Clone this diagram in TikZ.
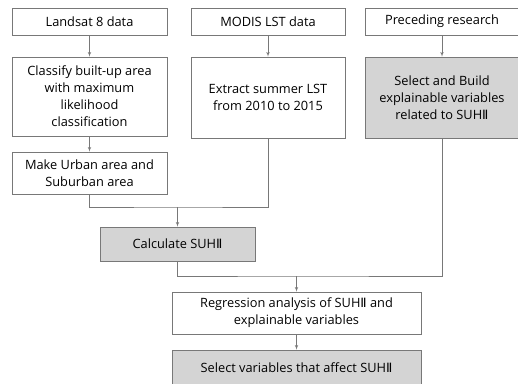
\documentclass[tikz,border=0pt]{standalone}
\usepackage{fontspec}
\setmainfont{Open Sans}
\newfontfamily\romfont{DejaVu Sans}
\newcommand{\romtwo}{{\romfont Ⅱ}}
\usepackage{tikz}
\usetikzlibrary{shapes,arrows,calc}
\definecolor{boxgray}{RGB}{212,212,212}
\definecolor{edgegray}{RGB}{120,120,120}
\tikzstyle{line} = [draw, edgegray, -latex']
\tikzstyle{block} = [draw=edgegray, fill=white, rectangle, text centered, align=center, inner sep=0pt, text=black]
\tikzstyle{shaded} = [block, fill=boxgray]

\begin{document}
\begin{tikzpicture}[x=1pt, y=-1pt, line width=0.6pt, font=\fontsize{12.8}{17}\selectfont]
        \useasboundingbox (0,0) rectangle (518,383);
        \node[block, minimum width=155pt, minimum height=27pt] (landsat) at (89.5,21.5) {Landsat 8 data};
        \node[block, minimum width=154pt, minimum height=27pt] (modis) at (268,21.5) {MODIS LST data};
        \node[block, minimum width=154pt, minimum height=27pt] (preceding) at (442,21.5) {Preceding research};
        \node[block, minimum width=155pt, minimum height=79pt] (classify) at (89.5,96.5) {Classify built-up area\\with maximum\\likelihood\\classification};
        \node[block, minimum width=154pt, minimum height=81pt] (extract) at (268,97.5) {Extract summer LST\\from 2010 to 2015};
        \node[shaded, minimum width=154pt, minimum height=81pt] (selbuild) at (442,97.5) {Select and Build\\explainable variables\\related to SUH\romtwo};
        \node[block, minimum width=155pt, minimum height=42pt] (urban) at (89.5,173) {Make Urban area and\\Suburban area};
        \node[shaded, minimum width=155pt, minimum height=34pt] (calc) at (177.5,244) {Calculate SUH\romtwo};
        \node[block, minimum width=249pt, minimum height=42pt] (regress) at (296.5,313) {Regression analysis of SUH\romtwo{} and\\explainable variables};
        \node[shaded, minimum width=249pt, minimum height=35pt] (selvar) at (296.5,367.5) {Select variables that affect SUH\romtwo};
        \coordinate (join1) at (177.5,207);
        \coordinate (join2) at (296.5,276);
        \path[line] (landsat) -- (classify);
        \path[line] (classify) -- (urban);
        \path[line] (preceding.south -| selbuild.north) -- (selbuild);
        \path[line] (modis) -- (extract);
        \draw[edgegray] (urban.south) |- (join1) -| (extract.south);
        \path[line] (join1) -- (calc);
        \draw[edgegray] (calc.south) |- (join2) -| (selbuild.south);
        \path[line] (join2) -- (regress);
        \path[line] (regress) -- (selvar);
    \end{tikzpicture}
\end{document}
